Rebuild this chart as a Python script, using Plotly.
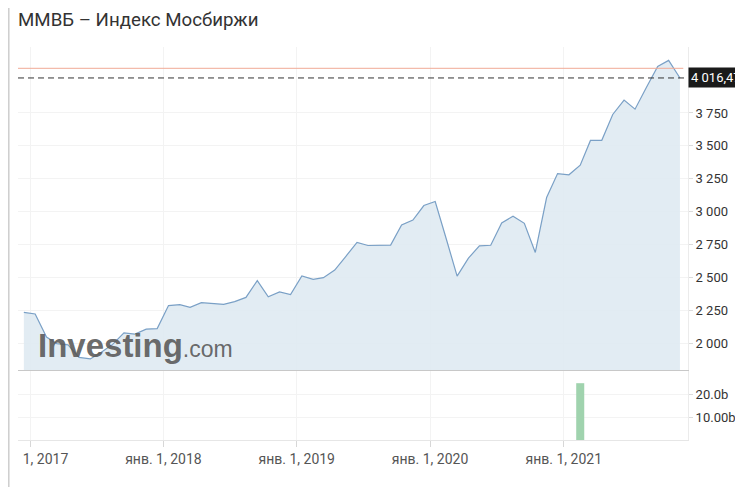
import pandas as pd
import plotly.graph_objects as go

# ---- data ----
months = pd.period_range("2016-12", "2021-11", freq="M")
close_values = [
    2233, 2221, 2045, 1996, 1986, 1891, 1879, 1930, 1990, 2078, 2068, 2106, 2110,
    2285, 2292, 2271, 2307, 2302, 2295, 2315, 2347, 2475, 2352, 2389, 2369,
    2510, 2484, 2497, 2555, 2658, 2766, 2742, 2741, 2745, 2898, 2936, 3046,
    3077, 2786, 2509, 2646, 2739, 2744, 2914, 2965, 2911, 2689, 3107, 3289,
    3280, 3353, 3541, 3542, 3739, 3848, 3779, 3944, 4104, 4150, 4016.47,
]
volume_months = ["2021-02"]
volume_values = [24.7e9]
last_value = 4016.47
prev_level = 4090

year_ticks = ["2017-01-01", "2018-01-01", "2019-01-01", "2020-01-01", "2021-01-01"]
year_labels = ["янв. 1, 2017", "янв. 1, 2018", "янв. 1, 2019", "янв. 1, 2020", "янв. 1, 2021"]
price_ticks = [2000, 2250, 2500, 2750, 3000, 3250, 3500, 3750]
vol_ticks = [10e9, 20e9]
vol_labels = ["10.00b", "20.0b"]

title_text = "ММВБ – Индекс Мосбиржи"

dates = months.to_timestamp() + pd.Timedelta(days=14)
vol_dates = pd.PeriodIndex(volume_months, freq="M").to_timestamp() + pd.Timedelta(days=14)

# ---- figure (page body has an 8px margin, so the figure is shifted by 8px) ----
OFF = 8
W, H = 743 - OFF, 487 - OFF
ML, MR, MT, MB = 10, 55, 39, 47
PW = W - ML - MR
PH = H - MT - MB


def px_x(r):  # r: x position in window pixels
    return (r - OFF - ML) / PW


def px_y(r):  # r: y position in window pixels
    return (H - MB - (r - OFF)) / PH


fig = go.Figure()

fig.add_trace(go.Scatter(
    x=dates, y=close_values, mode="lines",
    line=dict(color="rgb(122,160,198)", width=1.2),
    fill="tozeroy", fillcolor="rgba(224,234,242,0.92)",
    xaxis="x", yaxis="y", hoverinfo="skip", showlegend=False,
))

fig.add_trace(go.Bar(
    x=vol_dates, y=volume_values, width=1.9e9,
    marker=dict(color="rgb(160,211,174)", line=dict(width=0)),
    xaxis="x2", yaxis="y2", hoverinfo="skip", showlegend=False,
))

xrange = ["2016-11-29", "2021-12-07"]
grid = "rgb(243,243,243)"

fig.update_layout(
    width=W, height=H,
    margin=dict(l=ML, r=MR, t=MT, b=MB, autoexpand=False),
    paper_bgcolor="white", plot_bgcolor="white",
    separators=", ",
    font=dict(family="Roboto, Arial, sans-serif", color="#333"),
    title=dict(text=title_text, x=(18 - OFF) / W, xanchor="left", xref="container",
               y=1 - (19 - OFF) / H, yanchor="middle", yref="container",
               font=dict(size=18.7, color="#333", family="Roboto, Arial, sans-serif")),
    xaxis=dict(domain=[0, 1], range=xrange, anchor="y", matches="x2", automargin=False,
               showticklabels=False, tickvals=year_ticks, showgrid=True, gridcolor=grid,
               showline=True, linecolor="rgb(200,200,200)", linewidth=1, zeroline=False),
    yaxis=dict(domain=[px_y(370), 1], range=[1795, 4252], side="right", anchor="x",
               automargin=False,
               tickvals=price_ticks, tickformat=",d", ticks="outside", ticklen=4,
               tickcolor="rgb(220,220,220)", showgrid=True, gridcolor=grid,
               showline=True, linecolor="rgb(235,235,235)", zeroline=False,
               tickfont=dict(size=13, color="#333")),
    xaxis2=dict(domain=[0, 1], range=xrange, anchor="y2", automargin=False,
                tickvals=year_ticks, ticktext=year_labels, ticks="outside", ticklen=6,
                tickcolor="rgb(215,215,215)", showgrid=True, gridcolor=grid,
                showline=True, linecolor="rgb(230,230,230)", zeroline=False,
                ticklabeloverflow="allow",
                tickfont=dict(size=14, color="#555")),
    yaxis2=dict(domain=[0, px_y(371)], range=[0, 30e9], side="right", anchor="x2",
                automargin=False,
                tickvals=vol_ticks, ticktext=vol_labels, ticks="outside", ticklen=4,
                tickcolor="rgb(220,220,220)", showgrid=True, gridcolor=grid,
                showline=True, linecolor="rgb(235,235,235)", zeroline=False,
                tickfont=dict(size=13, color="#333")),
)

# reference lines
fig.add_shape(type="line", xref="x domain", yref="y", x0=0, x1=0.993,
              y0=prev_level, y1=prev_level, line=dict(color="rgb(240,170,150)", width=1))
fig.add_shape(type="line", xref="x domain", yref="y", x0=0, x1=1,
              y0=last_value, y1=last_value, line=dict(color="#333", width=1, dash="6px,4px"))

# clip overflowing first tick label, page border
fig.add_shape(type="rect", xref="paper", yref="paper", layer="above",
              x0=px_x(0), x1=px_x(21), y0=px_y(447), y1=px_y(475),
              fillcolor="white", line=dict(width=0))
fig.add_shape(type="line", xref="paper", yref="paper", layer="above",
              x0=px_x(8.8), x1=px_x(8.8), y0=px_y(H + OFF + 2), y1=px_y(OFF - 2),
              line=dict(color="rgb(205,205,205)", width=1.5))

# last value label
fig.add_annotation(xref="paper", yref="y", x=1, y=last_value, xanchor="left", yanchor="middle",
                   text="4 016,47", showarrow=False, bgcolor="#1a1a1a",
                   font=dict(color="white", size=13, family="Roboto, Arial, sans-serif"),
                   borderpad=2)

# watermark
fig.add_annotation(xref="paper", yref="paper", x=px_x(36), y=px_y(366), xanchor="left",
                   yanchor="bottom", showarrow=False,
                   text="<b>Investing</b><span style='font-size:23px'>.com</span>",
                   font=dict(size=33, color="rgba(88,88,88,0.9)",
                             family="Liberation Sans, Arial, sans-serif"))

fig.write_html("out.html")
